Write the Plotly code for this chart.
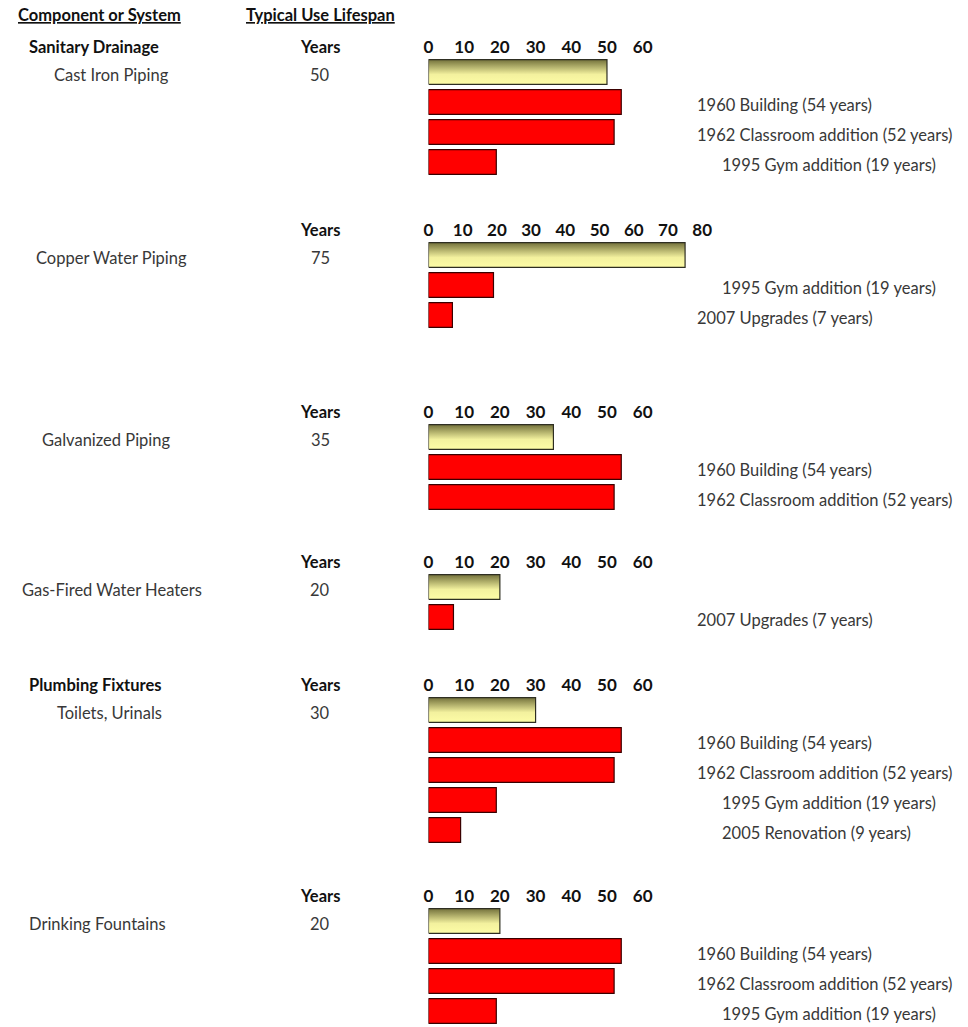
import plotly.graph_objects as go

# ---- data ---------------------------------------------------------------
systems = ["Sanitary Drainage", "", "", "", "Plumbing Fixtures", ""]
components = ["Cast Iron Piping", "Copper Water Piping", "Galvanized Piping",
              "Gas-Fired Water Heaters", "Toilets, Urinals", "Drinking Fountains"]
lifespans = [50, 75, 35, 20, 30, 20]

cast_iron_parts = ["1960 Building", "1962 Classroom addition", "1995 Gym addition"]
cast_iron_ages = [54, 52, 19]
copper_parts = ["1995 Gym addition", "2007 Upgrades"]
copper_ages = [19, 7]
galvanized_parts = ["1960 Building", "1962 Classroom addition"]
galvanized_ages = [54, 52]
heater_parts = ["2007 Upgrades"]
heater_ages = [7]
toilet_parts = ["1960 Building", "1962 Classroom addition", "1995 Gym addition", "2005 Renovation"]
toilet_ages = [54, 52, 19, 9]
fountain_parts = ["1960 Building", "1962 Classroom addition", "1995 Gym addition"]
fountain_ages = [54, 52, 19]

parts = [cast_iron_parts, copper_parts, galvanized_parts, heater_parts, toilet_parts, fountain_parts]
ages = [cast_iron_ages, copper_ages, galvanized_ages, heater_ages, toilet_ages, fountain_ages]

ticks_60 = [0, 10, 20, 30, 40, 50, 60]
ticks_80 = [0, 10, 20, 30, 40, 50, 60, 70, 80]
tick_sets = [ticks_60, ticks_80, ticks_60, ticks_60, ticks_60, ticks_60]

# ---- layout helpers (pixel geometry of the page) ------------------------
W, H = 968, 1027
X0 = 427                       # pixel where value 0 sits
PX_PER_YEAR = [3.6, 3.45, 3.6, 3.6, 3.6, 3.6]
GROUP_TOP = [57, 240, 422, 572, 695, 906]   # top of first bar slot (px)
PITCH = 30.0                                 # px per bar row
BAR_W = 0.82
name_cx = [107, 107, 102, 108, 105, 93]
indented = {"1995 Gym addition", "2005 Renovation"}
TEXT_DROP = -3                               # labels sit slightly below bar centres

FONT = "Lato"
SIZE = 16.5
TXT = "#383838"
DARK = "#111111"

fig = go.Figure()
annotations = []
layout_axes = {}

for i in range(len(components)):
    sfx = "" if i == 0 else str(i + 1)
    xa, ya = "x" + sfx, "y" + sfx
    n_rows = 1 + len(ages[i])
    xmax = tick_sets[i][-1] + 2
    x1 = X0 + xmax * PX_PER_YEAR[i]
    top = GROUP_TOP[i]
    bottom = min(top + n_rows * PITCH, H)

    layout_axes["xaxis" + sfx] = dict(
        domain=[X0 / W, x1 / W], range=[0, xmax], side="top", anchor=ya,
        tickvals=tick_sets[i], showgrid=False, zeroline=False, showline=False,
        ticks="", tickfont=dict(family=FONT, size=17, color=DARK, weight="bold"),
        fixedrange=True,
    )
    layout_axes["yaxis" + sfx] = dict(
        domain=[1 - bottom / H, 1 - top / H], range=[-(n_rows - 1) - 0.5, 0.5],
        visible=False, anchor=xa, fixedrange=True,
    )

    # typical lifespan bar with a vertical gradient fill
    v = lifespans[i]
    h = BAR_W / 2
    fig.add_trace(go.Scatter(
        x=[0, v, v, 0, 0], y=[-h, -h, h, h, -h], xaxis=xa, yaxis=ya,
        mode="lines", fill="toself", line=dict(color="#2e2e22", width=1.2),
        fillgradient=dict(type="vertical",
                          colorscale=[[0, "#fdfca6"], [0.4, "#f3f19e"], [1, "#74723c"]]),
        hoverinfo="skip", showlegend=False,
    ))

    # actual age bars
    ypos = [-(k + 1) for k in range(len(ages[i]))]
    fig.add_trace(go.Bar(
        x=ages[i], y=ypos, orientation="h", width=BAR_W, xaxis=xa, yaxis=ya,
        marker=dict(color="#ff0000", line=dict(color="#3a0000", width=1.2)),
        hoverinfo="skip", showlegend=False,
    ))

    # right-hand labels for each age bar
    for name, age, yy in zip(parts[i], ages[i], ypos):
        annotations.append(dict(
            x=(721 if name in indented else 696) / W, xref="paper", xanchor="left",
            y=yy, yref=ya, yanchor="middle", yshift=TEXT_DROP, showarrow=False,
            text=f"{name} ({age} years)", font=dict(family=FONT, size=SIZE, color=TXT),
        ))

    # "Years" header and lifespan value
    hdr_y = 1 - (top - 10) / H
    annotations.append(dict(
        x=318 / W, xref="paper", xanchor="center", y=hdr_y, yref="paper",
        yanchor="middle", showarrow=False, text="Years",
        font=dict(family=FONT, size=SIZE, color=DARK, weight="bold"),
    ))
    annotations.append(dict(
        x=318 / W, xref="paper", xanchor="center", y=0, yref=ya, yanchor="middle",
        yshift=TEXT_DROP, showarrow=False, text=str(v),
        font=dict(family=FONT, size=SIZE, color=TXT),
    ))
    annotations.append(dict(
        x=name_cx[i] / W, xref="paper", xanchor="center", y=0, yref=ya,
        yanchor="middle", yshift=TEXT_DROP, showarrow=False, text=components[i],
        font=dict(family=FONT, size=SIZE, color=TXT),
    ))
    if systems[i]:
        annotations.append(dict(
            x=22 / W, xref="paper", xanchor="left", y=hdr_y, yref="paper",
            yanchor="middle", showarrow=False, text=systems[i],
            font=dict(family=FONT, size=SIZE, color=DARK, weight="bold"),
        ))

# column headers
for text, cx in [("Component or System", 95), ("Typical Use Lifespan", 318)]:
    annotations.append(dict(
        x=cx / W, xref="paper", xanchor="center", y=1 - 15 / H, yref="paper",
        yanchor="middle", showarrow=False, text=text,
        font=dict(family=FONT, size=SIZE, color=DARK, weight="bold", lineposition="under"),
    ))

fig.update_layout(
    width=W, height=H, margin=dict(l=0, r=0, t=0, b=0),
    paper_bgcolor="white", plot_bgcolor="white",
    annotations=annotations, barmode="overlay", **layout_axes,
)

fig.write_html("out.html", config={"displayModeBar": False})
